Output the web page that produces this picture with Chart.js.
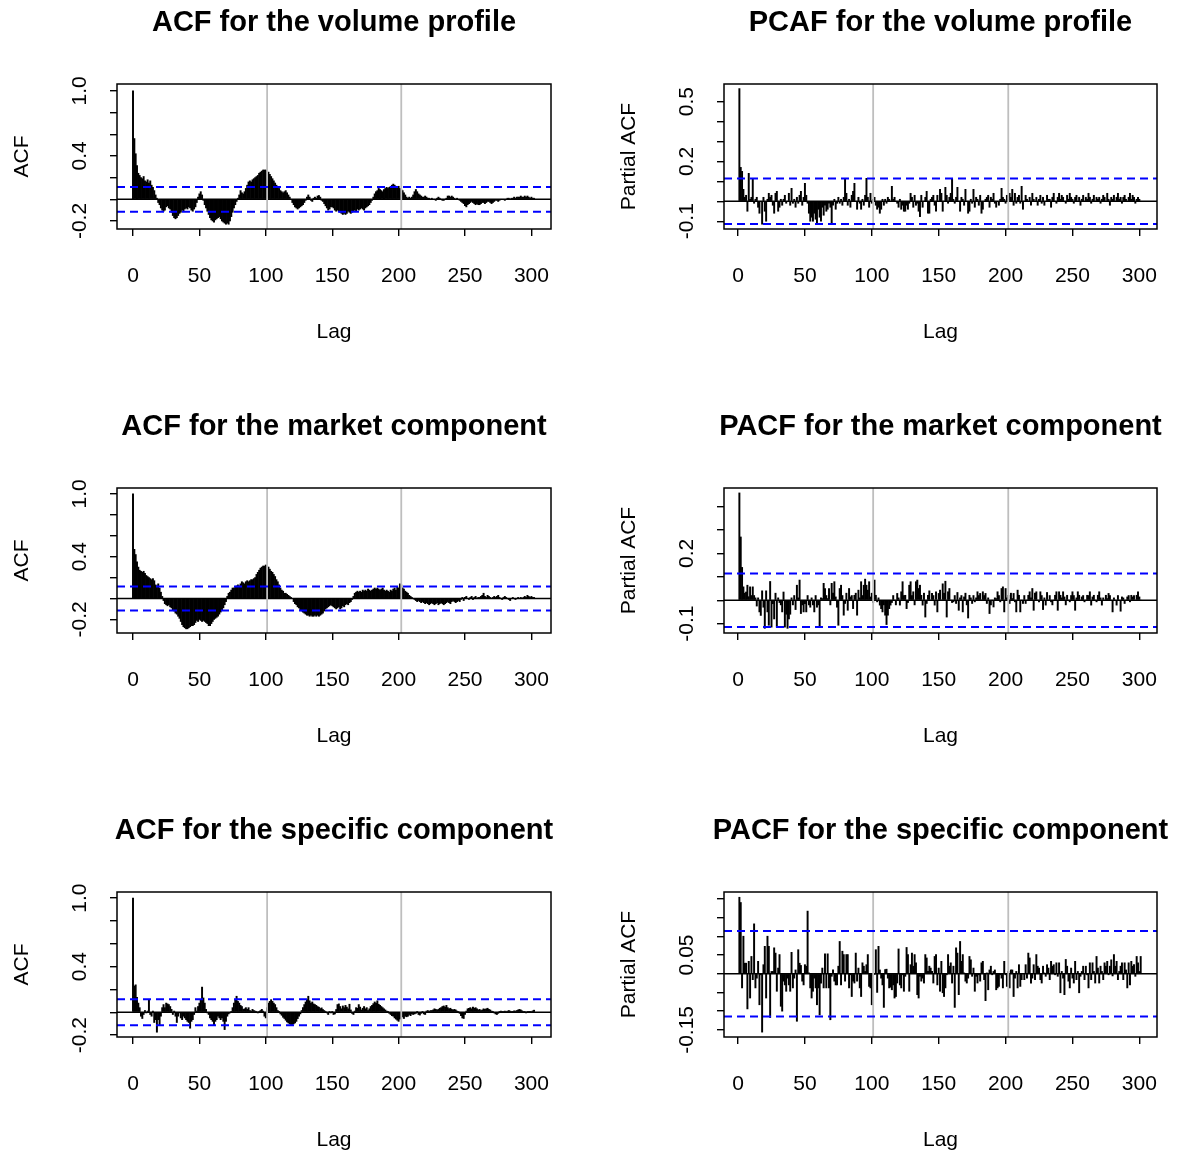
<!DOCTYPE html>
<html>
<head>
<meta charset="utf-8">
<script src="https://cdn.jsdelivr.net/npm/chart.js@4.4.0/dist/chart.umd.min.js"></script>
<style>
  body { margin: 0; background: #fff; width: 1184px; height: 1153px; position: relative; overflow: hidden; }
  canvas { position: absolute; }
</style>
</head>
<body>
<canvas id="c1" width="592" height="345" style="left:0;top:0"></canvas>
<canvas id="c2" width="592" height="345" style="left:592px;top:0"></canvas>
<canvas id="c3" width="592" height="345" style="left:0;top:404px"></canvas>
<canvas id="c4" width="592" height="345" style="left:592px;top:404px"></canvas>
<canvas id="c5" width="592" height="345" style="left:0;top:808px"></canvas>
<canvas id="c6" width="592" height="345" style="left:592px;top:808px"></canvas>
<script>
// Lag axis ticks, day boundaries and the 95% band
const lagTicks = [0, 50, 100, 150, 200, 250, 300];
const dayBreaks = [101, 202];
const confBound = 0.114;

// y ticks (all marks) and the labels R kept after overlap removal
const acfTicks = [-0.2, 0, 0.2, 0.4, 0.6, 0.8, 1.0];
const acfTickLabels = ['-0.2', '0.4', '1.0'];
const pacfVolumeTicks = [-0.1, 0, 0.1, 0.2, 0.3, 0.4, 0.5];
const pacfVolumeTickLabels = ['-0.1', '0.2', '0.5'];
const pacfMarketTicks = [-0.1, 0, 0.1, 0.2, 0.3, 0.4];
const pacfMarketTickLabels = ['-0.1', '0.2'];
const pacfSpecificTicks = [-0.15, -0.1, -0.05, 0, 0.05, 0.1, 0.15, 0.2];
const pacfSpecificTickLabels = ['-0.15', '0.05'];

// ACF of the volume profile, lags 0..302
const acfVolume = [
  1.00, 0.56, 0.42, 0.31, 0.24, 0.22, 0.20, 0.19, 0.21, 0.17,
  0.16, 0.18, 0.15, 0.17, 0.13, 0.11, 0.08, 0.04, 0.01, -0.03,
  -0.05, -0.08, -0.10, -0.11, -0.10, -0.07, -0.06, -0.08, -0.09, -0.12,
  -0.15, -0.17, -0.18, -0.17, -0.15, -0.13, -0.12, -0.10, -0.11, -0.09,
  -0.08, -0.09, -0.07, -0.08, -0.10, -0.11, -0.09, -0.07, -0.03, 0.02,
  0.05, 0.07, 0.04, -0.01, -0.05, -0.08, -0.11, -0.14, -0.17, -0.19,
  -0.20, -0.21, -0.19, -0.18, -0.17, -0.16, -0.18, -0.20, -0.21, -0.22,
  -0.23, -0.22, -0.23, -0.20, -0.16, -0.12, -0.08, -0.05, -0.02, 0.01,
  0.04, 0.08, 0.06, 0.05, 0.07, 0.10, 0.13, 0.16, 0.17, 0.16,
  0.18, 0.19, 0.20, 0.21, 0.22, 0.24, 0.25, 0.26, 0.27, 0.27,
  0.27, 0.26, 0.25, 0.23, 0.21, 0.19, 0.17, 0.15, 0.13, 0.11,
  0.10, 0.08, 0.07, 0.06, 0.07, 0.08, 0.06, 0.04, 0.02, 0.00,
  -0.03, -0.05, -0.07, -0.08, -0.09, -0.08, -0.07, -0.06, -0.05, -0.03,
  -0.01, 0.02, 0.04, 0.02, -0.01, -0.02, 0.01, 0.02, 0.01, 0.03,
  0.035, 0.02, -0.01, -0.02, -0.04, -0.06, -0.08, -0.10, -0.09, -0.07,
  -0.07, -0.08, -0.10, -0.11, -0.10, -0.11, -0.12, -0.13, -0.14, -0.13,
  -0.14, -0.13, -0.11, -0.12, -0.13, -0.12, -0.11, -0.10, -0.11, -0.09,
  -0.10, -0.09, -0.08, -0.09, -0.10, -0.08, -0.07, -0.06, -0.05, -0.03,
  -0.01, 0.02, 0.05, 0.07, 0.08, 0.10, 0.09, 0.08, 0.07, 0.09,
  0.10, 0.11, 0.10, 0.11, 0.12, 0.13, 0.14, 0.13, 0.12, 0.11,
  0.12, 0.10, 0.09, 0.08, 0.06, 0.04, 0.02, 0.01, 0.02, 0.01,
  0.02, 0.04, 0.07, 0.09, 0.07, 0.05, 0.04, 0.03, 0.02, 0.02,
  0.03, 0.02, 0.01, 0.01, 0.00, 0.01, 0.00, 0.00, -0.01, 0.01,
  0.02, 0.01, 0.00, -0.01, -0.01, 0.00, 0.01, 0.03, 0.03, 0.02,
  0.03, 0.02, 0.01, 0.00, 0.01, 0.00, -0.01, -0.02, -0.03, -0.04,
  -0.06, -0.07, -0.05, -0.04, -0.03, -0.02, -0.03, -0.04, -0.05, -0.04,
  -0.05, -0.05, -0.04, -0.03, -0.03, -0.04, -0.03, -0.02, -0.02, -0.03,
  -0.04, -0.03, -0.02, -0.01, -0.01, -0.02, -0.01, 0.00, 0.00, 0.00,
  -0.01, 0.00, 0.01, 0.01, 0.00, 0.01, 0.01, 0.02, 0.01, 0.02,
  0.02, 0.02, 0.03, 0.02, 0.02, 0.03, 0.02, 0.03, 0.02, 0.01,
  0.02, 0.01, 0.01
];

// PACF of the volume profile, lags 1..301
const pacfVolume = [
  0.565, 0.17, 0.15, 0.06, 0.02, 0.03, -0.05, 0.14, 0.01, 0.02,
  0.11, -0.01, 0.01, 0.02, -0.03, -0.06, 0.00, -0.115, 0.02, -0.05,
  -0.10, 0.01, 0.04, 0.02, 0.03, -0.02, -0.06, 0.04, 0.05, -0.05,
  -0.03, 0.01, -0.02, 0.01, 0.03, -0.01, 0.00, 0.04, -0.02, 0.065,
  -0.01, 0.01, -0.03, 0.02, -0.01, 0.03, 0.05, -0.02, 0.02, 0.09,
  0.03, -0.01, -0.06, -0.10, -0.08, -0.10, -0.06, -0.09, -0.11, -0.04,
  -0.08, -0.10, -0.03, -0.07, -0.02, -0.05, -0.04, -0.01, -0.03, -0.11,
  -0.02, 0.01, -0.04, -0.01, 0.02, -0.01, 0.01, -0.02, 0.02, 0.115,
  0.04, -0.02, 0.01, -0.03, 0.03, 0.05, 0.09, 0.00, -0.04, 0.02,
  -0.01, -0.04, 0.01, -0.02, 0.03, 0.115, 0.02, -0.03, 0.04, -0.01,
  0.01, 0.02, -0.02, -0.04, -0.03, -0.06, -0.04, 0.01, -0.02, 0.01,
  -0.01, 0.02, 0.01, 0.00, 0.075, 0.01, 0.02, 0.00, -0.01, -0.03,
  0.01, -0.04, -0.02, -0.05, -0.05, -0.02, -0.04, -0.01, 0.04, 0.02,
  -0.03, 0.03, -0.02, -0.01, -0.05, -0.077, 0.03, -0.03, 0.00, 0.02,
  0.05, -0.06, -0.06, 0.01, 0.02, 0.03, -0.02, -0.05, 0.03, 0.00,
  0.06, 0.04, -0.05, 0.00, 0.07, 0.03, -0.01, 0.02, 0.04, 0.11,
  0.01, -0.01, 0.02, 0.07, 0.00, -0.05, 0.02, 0.01, -0.02, 0.06,
  0.00, -0.06, -0.05, 0.01, -0.01, 0.06, -0.03, 0.02, 0.01, -0.02,
  0.03, -0.06, -0.04, 0.00, 0.01, 0.02, 0.03, -0.03, 0.02, 0.01,
  0.04, -0.01, -0.03, 0.00, -0.02, 0.01, 0.065, 0.02, 0.01, -0.01,
  0.03, 0.01, 0.04, 0.02, 0.06, -0.02, 0.04, -0.01, 0.02, 0.03,
  -0.01, 0.075, -0.04, 0.00, 0.03, 0.01, 0.00, 0.02, -0.02, 0.04,
  0.01, 0.00, 0.02, -0.02, 0.01, 0.03, -0.01, 0.02, -0.02, 0.00,
  0.03, 0.01, 0.01, -0.03, 0.02, 0.04, 0.00, -0.01, 0.02, 0.04,
  0.01, 0.03, 0.02, 0.00, -0.01, 0.03, 0.01, 0.04, 0.02, 0.01,
  -0.01, 0.02, 0.03, 0.00, 0.02, -0.02, 0.01, 0.03, 0.00, 0.02,
  0.01, 0.04, 0.02, -0.01, 0.01, 0.03, 0.00, 0.02, 0.01, 0.02,
  -0.01, 0.01, 0.03, 0.02, 0.00, 0.04, 0.01, -0.02, 0.02, 0.01,
  0.03, 0.00, 0.02, 0.04, 0.01, 0.02, -0.01, 0.02, 0.03, 0.01,
  0.00, 0.02, 0.04, 0.01, 0.03, 0.02, -0.01, 0.01, 0.02, 0.01,
  0.00
];

// ACF of the market component, lags 0..302
const acfMarket = [
  1.00,
  0.47, 0.42, 0.35, 0.30, 0.27, 0.26, 0.25, 0.26, 0.24, 0.22,
  0.21, 0.20, 0.19, 0.18, 0.19, 0.17, 0.13, 0.12, 0.14, 0.10,
  0.06, 0.02, -0.02, -0.05, -0.06, -0.07, -0.06, -0.08, -0.09, -0.11,
  -0.12, -0.14, -0.15, -0.17, -0.19, -0.22, -0.25, -0.27, -0.28, -0.29,
  -0.29, -0.28, -0.27, -0.26, -0.26, -0.25, -0.23, -0.21, -0.22, -0.20,
  -0.21, -0.22, -0.21, -0.22, -0.23, -0.24, -0.26, -0.26, -0.24, -0.22,
  -0.20, -0.19, -0.18, -0.17, -0.15, -0.13, -0.11, -0.09, -0.06, -0.03,
  0.02, 0.05, 0.06, 0.08, 0.10, 0.10, 0.11, 0.12, 0.13, 0.12,
  0.14, 0.16, 0.15, 0.14, 0.16, 0.17, 0.16, 0.17, 0.18, 0.18,
  0.19, 0.20, 0.23, 0.25, 0.27, 0.29, 0.30, 0.31, 0.31, 0.32,
  0.31, 0.30, 0.28, 0.26, 0.25, 0.23, 0.21, 0.18, 0.16, 0.13,
  0.10, 0.08, 0.07, 0.05, 0.05, 0.04, 0.03, 0.02, 0.01, 0.00,
  -0.03, -0.05, -0.06, -0.08, -0.09, -0.11, -0.12, -0.13, -0.14, -0.15,
  -0.16, -0.16, -0.17, -0.16, -0.17, -0.17, -0.16, -0.17, -0.16, -0.17,
  -0.16, -0.15, -0.14, -0.12, -0.10, -0.09, -0.08, -0.07, -0.06, -0.07,
  -0.08, -0.09, -0.10, -0.09, -0.08, -0.10, -0.09, -0.07, -0.08, -0.06,
  -0.05, -0.06, -0.04, -0.03, -0.01, 0.02, 0.05, 0.06, 0.07, 0.06,
  0.07, 0.06, 0.08, 0.07, 0.08, 0.07, 0.09, 0.08, 0.07, 0.08,
  0.09, 0.10, 0.09, 0.10, 0.09, 0.08, 0.09, 0.10, 0.08, 0.07,
  0.08, 0.07, 0.06, 0.08, 0.07, 0.09, 0.10, 0.08, 0.11, 0.10,
  0.14, 0.13, 0.10, 0.09, 0.07, 0.06, 0.05, 0.03, 0.02, 0.01,
  0.00, -0.01, -0.02, -0.03, -0.02, -0.03, -0.04, -0.03, -0.04, -0.05,
  -0.04, -0.05, -0.06, -0.05, -0.04, -0.05, -0.06, -0.05, -0.04, -0.06,
  -0.05, -0.04, -0.05, -0.06, -0.05, -0.04, -0.03, -0.04, -0.05, -0.03,
  -0.02, -0.03, -0.04, -0.03, -0.02, -0.03, -0.01, 0.01, -0.02, 0.01,
  0.02, 0.00, -0.01, 0.01, 0.02, -0.01, 0.01, 0.02, 0.00, 0.01,
  0.01, 0.02, 0.03, 0.05, 0.02, 0.01, 0.03, 0.02, 0.01, 0.00,
  0.01, 0.02, 0.01, 0.02, 0.03, 0.01, 0.00, -0.01, 0.01, 0.02,
  0.01, 0.00, -0.01, -0.02, 0.00, 0.01, 0.00, -0.01, 0.00, 0.01,
  0.00, 0.01, 0.00, 0.01, 0.02, 0.01, 0.03, 0.02, 0.01, 0.02,
  0.01, 0.01
];

// PACF of the market component, lags 1..301
const pacfMarket = [
  0.458, 0.27, 0.14, 0.057, 0.03, 0.035, 0.064, 0.015, 0.057, 0.02,
  0.057, 0.02, 0.01, -0.025, 0.01, -0.05, -0.065, 0.04, -0.03, -0.12,
  0.04, -0.05, -0.107, 0.08, -0.115, -0.015, -0.08, 0.03, -0.115, 0.01,
  -0.01, -0.02, -0.05, 0.035, -0.115, -0.06, -0.12, -0.08, -0.06, 0.01,
  -0.02, 0.02, -0.04, 0.064, 0.01, 0.086, -0.057, -0.02, -0.05, -0.015,
  -0.05, 0.02, -0.02, -0.03, 0.01, -0.02, -0.05, 0.02, -0.03, -0.02,
  -0.115, 0.01, 0.007, 0.072, 0.05, 0.02, 0.007, 0.05, -0.02, 0.072,
  0.03, 0.079, 0.014, -0.03, -0.107, 0.05, 0.064, 0.02, -0.064, -0.014,
  0.03, -0.043, 0.05, 0.014, 0.02, -0.036, 0.021, 0.03, -0.064, 0.043,
  0.01, 0.079, 0.02, 0.064, 0.09, 0.064, 0.043, 0.079, 0.014, 0.03,
  -0.01, 0.086, 0.021, -0.007, 0.01, -0.021, -0.036, -0.05, -0.02, -0.064,
  -0.104, -0.064, -0.036, -0.021, -0.01, 0.02, 0.00, -0.02, 0.029, 0.01,
  -0.021, 0.036, 0.079, 0.02, 0.021, -0.036, -0.01, 0.064, 0.079, 0.02,
  0.036, -0.02, 0.079, 0.086, 0.05, 0.064, 0.021, -0.021, 0.03, -0.072,
  -0.014, 0.021, 0.04, 0.00, 0.029, 0.02, -0.021, 0.036, -0.05, 0.029,
  0.043, 0.00, 0.07, 0.03, 0.081, -0.072, 0.036, 0.05, 0.00, -0.01,
  -0.007, 0.02, -0.014, 0.033, -0.043, 0.01, 0.02, -0.05, 0.014, 0.03,
  -0.02, -0.076, 0.021, 0.01, -0.014, 0.02, -0.007, 0.01, 0.036, 0.02,
  0.029, 0.00, 0.036, 0.02, 0.029, -0.014, 0.01, -0.057, -0.02, 0.00,
  -0.029, 0.01, 0.007, 0.036, 0.02, -0.007, 0.05, 0.057, -0.05, 0.05,
  0.01, 0.021, -0.014, 0.03, 0.007, 0.029, -0.007, -0.05, 0.043, 0.021,
  -0.05, 0.00, -0.014, 0.02, -0.014, 0.00, 0.021, 0.036, 0.01, 0.05,
  -0.043, 0.03, 0.036, 0.00, -0.007, 0.036, 0.02, -0.04, 0.01, -0.021,
  0.033, 0.00, 0.02, -0.007, -0.02, 0.00, 0.021, 0.036, -0.043, 0.036,
  0.021, 0.01, 0.036, 0.014, -0.02, 0.021, 0.00, -0.007, 0.02, 0.036,
  0.02, -0.043, 0.01, 0.036, 0.021, 0.00, 0.014, 0.02, -0.007, 0.00,
  0.021, 0.02, 0.036, -0.021, 0.014, 0.021, 0.00, -0.007, 0.021, 0.036,
  0.01, -0.021, 0.01, 0.00, 0.021, 0.007, 0.029, 0.02, 0.00, -0.05,
  0.01, 0.00, -0.021, 0.02, 0.00, -0.047, 0.014, 0.01, -0.014, 0.00,
  0.014, 0.02, -0.007, 0.021, 0.014, 0.02, 0.00, 0.021, 0.036, 0.014,
  0.00
];

// ACF of the specific component, lags 0..302
const acfSpecific = [
  1.00,
  0.23, 0.24, 0.13, 0.08, 0.04, -0.035, -0.055, -0.02, 0.015, -0.005,
  0.01, 0.11, -0.02, -0.035, 0.01, -0.09, -0.065, -0.175, -0.065, -0.11,
  -0.035, 0.04, 0.067, 0.04, 0.08, 0.073, 0.067, 0.05, 0.025, -0.02,
  0.01, -0.035, -0.09, -0.035, -0.005, -0.05, -0.065, -0.035, -0.05, -0.065,
  -0.08, -0.09, -0.14, -0.08, -0.065, -0.02, 0.04, 0.01, 0.05, 0.08,
  0.11, 0.22, 0.125, 0.08, 0.025, -0.005, -0.02, -0.05, -0.065, -0.08,
  -0.114, -0.08, -0.065, -0.035, -0.05, -0.065, -0.05, -0.08, -0.152, -0.08,
  -0.035, -0.015, -0.005, 0.003, 0.04, 0.08, 0.11, 0.14, 0.095, 0.08,
  0.06, 0.05, 0.025, 0.03, 0.04, 0.025, 0.04, 0.015, 0.01, 0.025,
  0.015, 0.01, 0.003, -0.005, 0.003, 0.015, 0.025, 0.01, -0.035, -0.05,
  0.04, 0.08, 0.095, 0.11, 0.095, 0.08, 0.067, 0.04, 0.015, 0.003,
  -0.015, -0.027, -0.044, -0.055, -0.07, -0.085, -0.094, -0.102, -0.108, -0.108,
  -0.102, -0.094, -0.08, -0.056, -0.035, -0.015, 0.015, 0.04, 0.067, 0.09,
  0.11, 0.14, 0.10, 0.08, 0.09, 0.073, 0.067, 0.06, 0.05, 0.044,
  0.032, 0.038, 0.024, 0.015, 0.003, -0.005, -0.02, 0.003, -0.005, 0.003,
  -0.02, -0.015, 0.024, 0.067, 0.073, 0.05, 0.03, 0.055, 0.04, 0.06,
  0.045, 0.03, 0.07, 0.02, -0.01, -0.02, 0.01, 0.04, 0.035, 0.067,
  0.045, 0.02, 0.035, 0.05, 0.03, 0.04, 0.015, 0.03, 0.05, 0.06,
  0.075, 0.09, 0.08, 0.10, 0.07, 0.06, 0.05, 0.04, 0.03, 0.02,
  0.01, 0.005, -0.01, -0.02, -0.03, -0.035, -0.05, -0.06, -0.07, -0.08,
  -0.06, -0.05, -0.04, -0.055, -0.035, -0.04, -0.035, -0.02, -0.03, -0.015,
  -0.02, -0.015, -0.01, 0.005, -0.02, -0.025, -0.01, 0.003, -0.015, -0.02,
  0.01, 0.015, 0.003, 0.015, 0.015, 0.02, 0.03, 0.025, 0.02, 0.025,
  0.035, 0.04, 0.05, 0.055, 0.045, 0.06, 0.04, 0.03, 0.035, 0.025,
  0.02, 0.025, 0.02, 0.01, 0.005, -0.01, -0.03, -0.05, -0.055, -0.02,
  0.01, 0.03, 0.035, 0.04, 0.03, 0.045, 0.035, 0.04, 0.03, 0.02,
  0.025, 0.015, 0.02, 0.03, 0.025, 0.03, 0.035, 0.025, 0.02, 0.01,
  0.005, -0.005, -0.015, -0.02, -0.01, 0.003, 0.01, 0.003, 0.005, 0.01,
  0.006, 0.01, 0.015, 0.01, 0.003, 0.008, 0.012, 0.01, 0.015, 0.02,
  0.025, 0.02, 0.012, 0.005, 0.003, -0.003, 0.003, 0.005, 0.002, 0.006,
  0.012, 0.018
];

// PACF of the specific component, lags 1..301
const pacfSpecific = [
  0.204, 0.19, -0.038, 0.10, 0.028, 0.028, -0.094, 0.033, -0.065, 0.046,
  -0.016, 0.133, -0.038, -0.012, 0.033, -0.083, -0.003, -0.156, 0.024, 0.073,
  -0.065, 0.10, 0.073, -0.117, 0.006, 0.006, 0.069, 0.055, -0.047, 0.015,
  0.051, -0.087, -0.10, -0.02, -0.03, -0.047, -0.012, -0.03, -0.047, 0.057,
  -0.038, -0.012, 0.01, -0.127, 0.064, 0.028, 0.022, -0.02, -0.03, 0.024,
  0.02, 0.167, 0.002, -0.038, -0.065, -0.047, -0.012, -0.038, -0.083, -0.038,
  -0.11, -0.025, 0.015, -0.038, 0.053, -0.038, 0.053, -0.038, -0.123, -0.007,
  0.01, -0.02, -0.03, -0.03, 0.02, 0.086, -0.03, 0.06, 0.051, -0.02,
  0.051, 0.051, -0.038, -0.003, -0.061, -0.02, -0.025, 0.055, -0.02, 0.015,
  -0.038, -0.061, 0.029, 0.02, 0.006, 0.024, 0.051, -0.034, -0.038, -0.083,
  -0.003, -0.001, 0.064, -0.05, 0.073, 0.01, -0.012, -0.03, -0.09, 0.011,
  0.012, -0.012, -0.038, -0.036, -0.043, -0.03, -0.065, -0.061, -0.025, 0.066,
  -0.03, -0.038, -0.003, -0.047, -0.007, 0.07, 0.051, -0.047, 0.024, 0.055,
  0.02, 0.051, 0.029, -0.056, -0.065, -0.007, -0.02, -0.012, -0.025, 0.051,
  0.042, 0.006, 0.02, 0.015, 0.006, -0.025, 0.046, 0.051, -0.03, 0.015,
  -0.047, 0.033, -0.051, -0.061, -0.038, -0.003, 0.051, 0.02, 0.029, -0.025,
  0.02, -0.09, 0.069, 0.055, -0.056, 0.086, 0.033, 0.051, 0.002, -0.02,
  -0.025, -0.012, 0.046, 0.037, -0.007, 0.015, -0.047, -0.007, -0.025, -0.003,
  -0.02, 0.029, 0.033, -0.016, -0.072, 0.002, -0.043, 0.01, 0.02, -0.003,
  0.006, 0.01, -0.043, -0.038, -0.034, -0.003, -0.012, -0.038, 0.033, -0.003,
  -0.034, 0.006, -0.038, 0.01, 0.01, -0.061, -0.012, 0.006, -0.038, 0.024,
  -0.034, -0.016, 0.00, -0.016, 0.024, -0.012, 0.055, 0.042, -0.025, -0.012,
  0.024, -0.016, 0.051, 0.02, 0.015, -0.016, -0.025, 0.02, 0.002, -0.007,
  0.024, 0.015, -0.016, 0.033, 0.02, 0.024, -0.003, 0.029, -0.007, 0.029,
  -0.051, 0.006, -0.012, -0.056, 0.038, 0.02, -0.02, -0.038, 0.015, -0.012,
  -0.025, 0.033, -0.016, 0.006, -0.051, -0.007, 0.006, 0.02, -0.016, 0.02,
  -0.003, -0.038, 0.029, -0.016, 0.029, 0.006, -0.025, 0.046, 0.015, -0.025,
  0.02, 0.006, -0.016, 0.029, 0.02, 0.033, -0.003, 0.02, 0.037, -0.006,
  0.051, 0.02, 0.033, -0.016, 0.006, 0.02, 0.029, -0.016, 0.029, 0.01,
  -0.038, 0.029, -0.03, 0.033, 0.02, 0.024, -0.007, 0.046, 0.029, 0.006,
  0.046
];

const FONT = '"Liberation Sans", Arial, Helvetica, sans-serif';

const panels = [
  { id: 'c1', title: 'ACF for the volume profile', values: acfVolume, firstLag: 0, yLabel: 'ACF',
    yMin: -0.274, yMax: 1.063, yTicks: acfTicks, yLabels: acfTickLabels, col: 0 },
  { id: 'c2', title: 'PCAF for the volume profile', values: pacfVolume, firstLag: 1, yLabel: 'Partial ACF',
    yMin: -0.139, yMax: 0.588, yTicks: pacfVolumeTicks, yLabels: pacfVolumeTickLabels, col: 1 },
  { id: 'c3', title: 'ACF for the market component', values: acfMarket, firstLag: 0, yLabel: 'ACF',
    yMin: -0.33, yMax: 1.056, yTicks: acfTicks, yLabels: acfTickLabels, col: 0 },
  { id: 'c4', title: 'PACF for the market component', values: pacfMarket, firstLag: 1, yLabel: 'Partial ACF',
    yMin: -0.14, yMax: 0.479, yTicks: pacfMarketTicks, yLabels: pacfMarketTickLabels, col: 1 },
  { id: 'c5', title: 'ACF for the specific component', values: acfSpecific, firstLag: 0, yLabel: 'ACF',
    yMin: -0.217, yMax: 1.053, yTicks: acfTicks, yLabels: acfTickLabels, col: 0 },
  { id: 'c6', title: 'PACF for the specific component', values: pacfSpecific, firstLag: 1, yLabel: 'Partial ACF',
    yMin: -0.169, yMax: 0.218, yTicks: pacfSpecificTicks, yLabels: pacfSpecificTickLabels, col: 1 }
];

// box, titles and rotated labels in the style of base R graphics
function frameAndText(p) {
  return {
    id: 'frame_' + p.id,
    afterDraw(chart) {
      const { ctx, chartArea: a, scales: { x, y } } = chart;
      ctx.save();
      ctx.strokeStyle = '#000';
      ctx.lineWidth = 1.5;
      ctx.strokeRect(a.left, a.top, a.right - a.left, a.bottom - a.top);

      ctx.fillStyle = '#000';
      ctx.textAlign = 'center';
      ctx.textBaseline = 'middle';
      const cx = (a.left + a.right) / 2;
      ctx.font = 'bold 29px ' + FONT;
      ctx.fillText(p.title, cx, a.top - 61);

      ctx.font = '21px ' + FONT;
      lagTicks.forEach(v => ctx.fillText(String(v), x.getPixelForValue(v), a.bottom + 47));
      ctx.fillText('Lag', cx, a.bottom + 103);

      p.yLabels.forEach(lbl => {
        ctx.save();
        ctx.translate(a.left - 37, y.getPixelForValue(parseFloat(lbl)));
        ctx.rotate(-Math.PI / 2);
        ctx.fillText(lbl, 0, 0);
        ctx.restore();
      });

      ctx.save();
      ctx.translate(a.left - 95, (a.top + a.bottom) / 2);
      ctx.rotate(-Math.PI / 2);
      ctx.fillText(p.yLabel, 0, 0);
      ctx.restore();
      ctx.restore();
    }
  };
}

function hLine(xMin, xMax, v, color, width, dash, order) {
  return {
    type: 'line', data: [{ x: xMin, y: v }, { x: xMax, y: v }],
    borderColor: color, borderWidth: width, borderDash: dash, pointRadius: 0, order: order
  };
}

function drawPanel(p) {
  const xMin = p.firstLag === 0 ? -12.05 : -10.5;
  const xMax = p.firstLag === 0 ? 314.76 : 313.2;
  const padLeft = p.col === 0 ? 77 : 92;
  const padRight = p.col === 0 ? 41 : 27;

  const tickGrid = { display: true, drawOnChartArea: false, drawTicks: true, tickLength: 7,
                     color: '#000', lineWidth: 1.4, offset: false };

  new Chart(document.getElementById(p.id), {
    type: 'bar',
    data: {
      datasets: [
        { type: 'bar', data: p.values.map((v, i) => ({ x: i + p.firstLag, y: v })),
          backgroundColor: '#000', barThickness: 1.3, grouped: false, order: 4 },
        hLine(xMin, xMax, 0, '#000', 1.5, [], 3),
        ...dayBreaks.map(d => ({
          type: 'line', data: [{ x: d, y: p.yMin }, { x: d, y: p.yMax }],
          borderColor: '#bebebe', borderWidth: 1.8, pointRadius: 0, order: 2
        })),
        hLine(xMin, xMax, confBound, '#0000ff', 2, [8, 5], 1),
        hLine(xMin, xMax, -confBound, '#0000ff', 2, [8, 5], 1)
      ]
    },
    options: {
      responsive: false,
      animation: false,
      devicePixelRatio: 1,
      events: [],
      layout: { padding: { left: padLeft, right: padRight, top: 84, bottom: 86 } },
      plugins: { legend: { display: false }, tooltip: { enabled: false }, title: { display: false } },
      scales: {
        x: {
          type: 'linear', min: xMin, max: xMax, offset: false,
          grid: tickGrid, border: { display: false },
          ticks: { display: false },
          afterBuildTicks: s => { s.ticks = lagTicks.map(v => ({ value: v })); },
          afterFit: s => { s.height = 30; }
        },
        y: {
          type: 'linear', min: p.yMin, max: p.yMax,
          grid: tickGrid, border: { display: false },
          ticks: { display: false },
          afterBuildTicks: s => { s.ticks = p.yTicks.map(v => ({ value: v })); },
          afterFit: s => { s.width = 40; }
        }
      }
    },
    plugins: [frameAndText(p)]
  });
}

panels.forEach(drawPanel);
</script>
</body>
</html>
